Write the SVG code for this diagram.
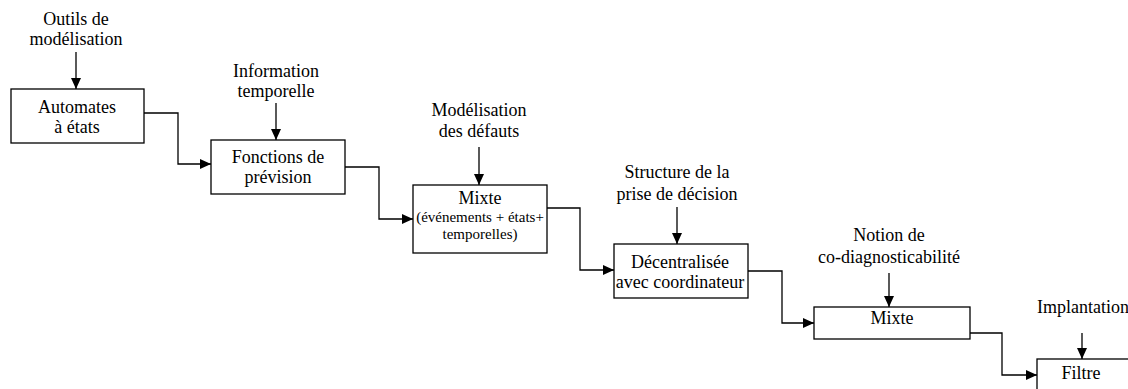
<svg xmlns="http://www.w3.org/2000/svg" width="1128" height="389" viewBox="0 0 1128 389">
<style>
text{font-family:"Liberation Serif","Times New Roman",serif;font-size:18px;fill:#000;text-anchor:middle}
.s{font-size:15px}
rect{fill:#fff;stroke:#000;stroke-width:1.3}
.c path{fill:none;stroke:#000;stroke-width:1.3}
</style>
<defs>
<marker id="a" markerUnits="userSpaceOnUse" markerWidth="12" markerHeight="10" refX="11" refY="5" orient="auto">
<path d="M0,0 L11,5 L0,10 Z" fill="#000"/>
</marker>
</defs>
<g id="n1">
<rect x="11" y="89" width="133" height="54"/>
<text x="77" y="113">Automates</text>
<text x="77" y="133">à états</text>
</g>
<g id="l1"><text x="76" y="25">Outils de</text><text x="76" y="45">modélisation</text></g>
<g id="n2">
<rect x="211" y="140" width="134" height="54"/>
<text x="278" y="163">Fonctions de</text>
<text x="278" y="183">prévision</text>
</g>
<g id="l2"><text x="276" y="77">Information</text><text x="276" y="97">temporelle</text></g>
<g id="n3">
<rect x="413" y="185" width="134" height="68"/>
<text x="480" y="204">Mixte</text>
<text class="s" x="480" y="222">(événements + états+</text>
<text class="s" x="480" y="239">temporelles)</text>
</g>
<g id="l3"><text x="479" y="116">Modélisation</text><text x="479" y="137">des défauts</text></g>
<g id="n4">
<rect x="614" y="244" width="134" height="54"/>
<text x="680" y="268">Décentralisée</text>
<text x="680" y="288">avec coordinateur</text>
</g>
<g id="l4"><text x="677" y="178">Structure de la</text><text x="677" y="200">prise de décision</text></g>
<g id="n5">
<rect x="814" y="307" width="156" height="32"/>
<text x="892" y="324">Mixte</text>
</g>
<g id="l5"><text x="889" y="241">Notion de</text><text x="889" y="263">co-diagnosticabilité</text></g>
<g id="n6">
<rect x="1037" y="359" width="120" height="50"/>
<text x="1081" y="379">Filtre</text>
</g>
<g id="l6"><text x="1083" y="313">Implantation</text></g>
<g class="c" id="connectors">
<path d="M76,52 V89" marker-end="url(#a)"/>
<path d="M276,103 V140" marker-end="url(#a)"/>
<path d="M479,147 V185" marker-end="url(#a)"/>
<path d="M677,207 V244" marker-end="url(#a)"/>
<path d="M889,273 V307" marker-end="url(#a)"/>
<path d="M1082,333 V359" marker-end="url(#a)"/>
<path d="M144,113 H178 V164 H211" marker-end="url(#a)"/>
<path d="M345,167 H379 V219 H413" marker-end="url(#a)"/>
<path d="M547,208 H580 V270 H614" marker-end="url(#a)"/>
<path d="M748,271 H782 V323 H814" marker-end="url(#a)"/>
<path d="M970,333 H1002 V375 H1037" marker-end="url(#a)"/>
</g>
</svg>
